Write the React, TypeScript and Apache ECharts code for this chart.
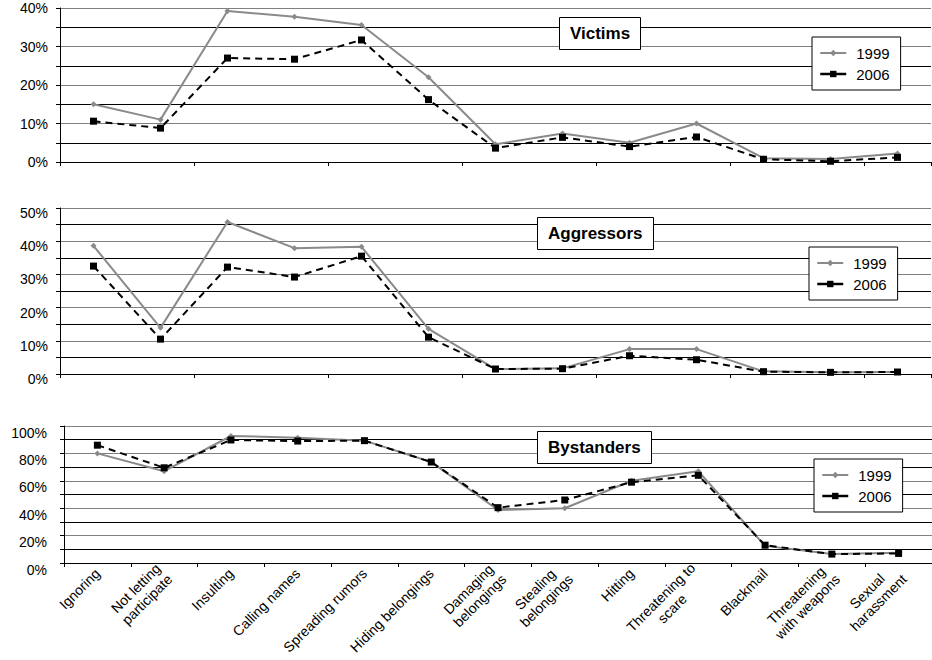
import React, { useEffect, useRef } from "react";
import * as echarts from "echarts";

const categories = [
  "Ignoring",
  "Not letting\nparticipate",
  "Insulting",
  "Calling names",
  "Spreading rumors",
  "Hiding belongings",
  "Damaging\nbelongings",
  "Stealing\nbelongings",
  "Hitting",
  "Threatening to\nscare",
  "Blackmail",
  "Threatening\nwith weapons",
  "Sexual\nharassment",
];

const panelTitles = ["Victims", "Aggressors", "Bystanders"];
const seriesNames = ["1999", "2006"];

const victims1999 = [15, 11, 39.2, 37.7, 35.6, 22, 4.6, 7.4, 5.0, 10, 1, 0.8, 2.2];
const victims2006 = [10.6, 8.8, 27, 26.7, 31.7, 16.2, 3.6, 6.4, 4.0, 6.5, 0.7, 0.2, 1.2];

const aggressors1999 = [38.6, 13.9, 45.8, 37.9, 38.3, 13.6, 1.5, 1.7, 7.5, 7.5, 0.8, 0.5, 0.6];
const aggressors2006 = [32.5, 10.5, 32.2, 29.2, 35.5, 11.1, 1.5, 1.6, 5.5, 4.3, 0.7, 0.5, 0.6];

const bystanders1999 = [80, 67, 92.7, 91.5, 89.3, 73.7, 38.7, 40, 60, 67, 12.5, 6.5, 7.5];
const bystanders2006 = [86, 69.5, 89.8, 89, 89.3, 73.7, 40.4, 46, 59, 64, 13, 6.5, 7];

const yMax = [40, 50, 100];
const yInterval = [10, 10, 20];

const FONT = "'Liberation Sans', Arial, sans-serif";

export default function App() {
  const ref = useRef<HTMLDivElement>(null);

  useEffect(() => {
    if (!ref.current) return;
    const chart = echarts.init(ref.current, null, { renderer: "svg" });

    const data1999 = [victims1999, aggressors1999, bystanders1999];
    const data2006 = [victims2006, aggressors2006, bystanders2006];

    const grids = [
      { left: 60, right: 1, top: 7, height: 155 },
      { left: 60, right: 1, top: 208, height: 166 },
      { left: 64, right: 0, top: 426, height: 137 },
    ];

    const labelVAlign = ["middle", "top", "top"];
    const labelLineHeight = [16, 10, 13];
    const labelMargin = [12, 12, 17];

    const xAxis = [0, 1, 2].map((i) => ({
      type: "category",
      gridIndex: i,
      data: categories,
      boundaryGap: true,
      axisLine: { show: true, lineStyle: { color: "#000", width: 1 } },
      axisTick: { show: true, length: 4, lineStyle: { color: "#000" } },
      splitLine: { show: false },
      axisLabel:
        i < 2
          ? { show: false }
          : {
              show: true,
              interval: 0,
              rotate: 45,
              margin: 8,
              color: "#000",
              fontSize: 14,
              fontFamily: FONT,
              formatter: (v: string) =>
                v
                  .split("\n")
                  .map((l) => `{c|${l}}`)
                  .join("\n"),
              rich: {
                c: {
                  align: "center",
                  fontSize: 14,
                  lineHeight: 16,
                  color: "#000",
                  fontFamily: FONT,
                },
              },
            },
    }));

    const yAxis = [0, 1, 2].map((i) => ({
      type: "value",
      gridIndex: i,
      min: 0,
      max: yMax[i],
      interval: yInterval[i],
      axisLine: { show: true, lineStyle: { color: "#000", width: 1 } },
      axisTick: { show: true, length: 4, lineStyle: { color: "#000" } },
      minorTick: { show: true, splitNumber: 2, length: 4, lineStyle: { color: "#000" } },
      splitLine: { show: true, lineStyle: { color: "#808080", width: 1 } },
      minorSplitLine: { show: true, lineStyle: { color: "#000", width: 1 } },
      axisLabel: {
        formatter: "{value}%",
        color: "#000",
        fontSize: 14,
        fontFamily: FONT,
        margin: labelMargin[i],
        verticalAlign: labelVAlign[i],
        lineHeight: labelLineHeight[i],
      },
    }));

    const series: any[] = [];
    [0, 1, 2].forEach((i) => {
      series.push({
        name: seriesNames[0],
        type: "line",
        xAxisIndex: i,
        yAxisIndex: i,
        data: data1999[i],
        symbol: "diamond",
        symbolSize: 6,
        itemStyle: { color: "#8a8a8a" },
        lineStyle: { color: "#8a8a8a", width: 2, type: "solid" },
        z: 3,
      });
      series.push({
        name: seriesNames[1],
        type: "line",
        xAxisIndex: i,
        yAxisIndex: i,
        data: data2006[i],
        symbol: "rect",
        symbolSize: 7,
        itemStyle: { color: "#000" },
        lineStyle: { color: "#000", width: 2, type: [7, 5] },
        z: 4,
      });
    });

    const legendPos = [
      { left: 812, top: 37 },
      { left: 809, top: 247 },
      { left: 814, top: 459 },
    ];
    const legend = legendPos.map((p) => ({
      ...p,
      orient: "vertical",
      data: [
        { name: seriesNames[0] },
        { name: seriesNames[1], lineStyle: { type: "solid", width: 2.5 } },
      ],
      backgroundColor: "#fff",
      borderColor: "#000",
      borderWidth: 1,
      padding: [8, 11, 8, 7],
      itemWidth: 26,
      itemHeight: 8,
      itemGap: 5,
      selectedMode: false,
      textStyle: {
        color: "#000",
        fontSize: 15,
        lineHeight: 16,
        fontFamily: FONT,
        padding: [0, 0, 0, 5],
      },
    }));

    const titlePos = [
      { left: 559, top: 17 },
      { left: 537, top: 217 },
      { left: 537, top: 431 },
    ];
    const title = titlePos.map((p, i) => ({
      ...p,
      text: panelTitles[i],
      backgroundColor: "#fff",
      borderColor: "#000",
      borderWidth: 1,
      padding: [8, 11, 8, 11],
      textStyle: {
        color: "#000",
        fontSize: 17,
        fontWeight: "bold",
        fontFamily: FONT,
      },
    }));

    chart.setOption({
      animation: false,
      backgroundColor: "#fff",
      textStyle: { fontFamily: FONT },
      title,
      legend,
      grid: grids,
      xAxis,
      yAxis,
      series,
    });

    return () => chart.dispose();
  }, []);

  return (
    <div
      ref={ref}
      style={{ position: "fixed", left: 0, top: 0, width: 932, height: 660, background: "#fff" }}
    />
  );
}
